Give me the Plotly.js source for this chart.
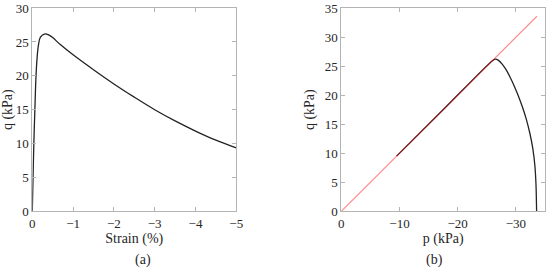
<!DOCTYPE html>
<html>
<head>
<meta charset="utf-8">
<script src="https://cdn.plot.ly/plotly-3.0.1.min.js"></script>
<style>
  html, body { margin: 0; padding: 0; background: #fff; }
  #chart { width: 550px; height: 270px; }
</style>
</head>
<body>
<div id="chart"></div>
<script>
// (a) deviator stress vs axial strain
const strainPct = [0, -0.015, -0.03, -0.045, -0.066, -0.09, -0.12, -0.15, -0.2, -0.31, -0.4, -0.5, -0.68, -1, -1.5, -2, -2.5, -3, -3.5, -4, -4.5, -5];
const qStrain = [0, 4, 8, 11.5, 15.5, 19.8, 22.8, 24.5, 25.7, 26.2, 26.05, 25.65, 24.65, 23.1, 20.9, 18.8, 16.85, 15.0, 13.35, 11.85, 10.5, 9.35];

// (b) stress path
const pPath = [-9.5, -18, -25.9, -26.45, -27.0, -27.6, -28.3, -29.0, -29.7, -30.4, -31.1, -31.8, -32.4, -32.9, -33.25, -33.45, -33.55];
const qPath = [9.5, 18, 25.9, 26.2, 26.0, 25.4, 24.4, 23.1, 21.6, 19.9, 18.0, 15.8, 13.4, 10.8, 7.9, 4.5, 0];

// failure line q = -p
const pLine = [0, -33.6];
const qLine = [0, 33.6];

const serif = 'Times New Roman, Liberation Serif, DejaVu Serif, serif';
const axisGrey = '#b4b4b4';
const txt = '#262626';
const titleFont = { family: serif, size: 14, color: txt };

const axisBase = {
  showgrid: false,
  zeroline: false,
  showline: true,
  linecolor: axisGrey,
  linewidth: 1,
  mirror: 'ticks',
  ticks: 'inside',
  ticklen: 4,
  tickcolor: axisGrey,
  tickfont: { family: serif, size: 13, color: txt },
};

const data = [
  {
    x: strainPct, y: qStrain, xaxis: 'x', yaxis: 'y',
    type: 'scatter', mode: 'lines',
    line: { color: '#222', width: 1.3, shape: 'spline', smoothing: 1 },
  },
  {
    x: pPath, y: qPath, xaxis: 'x2', yaxis: 'y2',
    type: 'scatter', mode: 'lines',
    line: { color: '#222', width: 1.3, shape: 'spline', smoothing: 0.7 },
  },
  {
    x: pLine, y: qLine, xaxis: 'x2', yaxis: 'y2',
    type: 'scatter', mode: 'lines',
    line: { color: 'rgba(255,0,0,0.45)', width: 1.2 },
  },
];

const layout = {
  width: 550, height: 270,
  margin: { l: 0, r: 0, t: 0, b: 0 },
  paper_bgcolor: '#fff',
  plot_bgcolor: '#fff',
  showlegend: false,
  font: { family: serif, color: txt },
  xaxis: Object.assign({}, axisBase, {
    domain: [0.0587, 0.4296], anchor: 'y',
    range: [0, -5], dtick: 1,
    title: { text: 'Strain (%)', standoff: 2, font: titleFont },
  }),
  yaxis: Object.assign({}, axisBase, {
    domain: [0.2174, 0.970], anchor: 'x',
    range: [0, 30], dtick: 5,
    title: { text: 'q (kPa)', standoff: 6, font: titleFont },
  }),
  xaxis2: Object.assign({}, axisBase, {
    domain: [0.6205, 0.991], anchor: 'y2',
    range: [0, -35], dtick: 10,
    title: { text: 'p (kPa)', standoff: 2, font: titleFont },
  }),
  yaxis2: Object.assign({}, axisBase, {
    domain: [0.2174, 0.970], anchor: 'x2',
    range: [0, 35], dtick: 5,
    title: { text: 'q (kPa)', standoff: 6, font: titleFont },
  }),
  annotations: [
    { text: '(a)', xref: 'paper', yref: 'paper', x: 0.242, y: 0.037, yanchor: 'middle', showarrow: false,
      font: { family: serif, size: 14, color: txt } },
    { text: '(b)', xref: 'paper', yref: 'paper', x: 0.809, y: 0.037, yanchor: 'middle', showarrow: false,
      font: { family: serif, size: 14, color: txt } },
  ],
};

Plotly.newPlot('chart', data, layout, { displayModeBar: false, staticPlot: true });
</script>
</body>
</html>
